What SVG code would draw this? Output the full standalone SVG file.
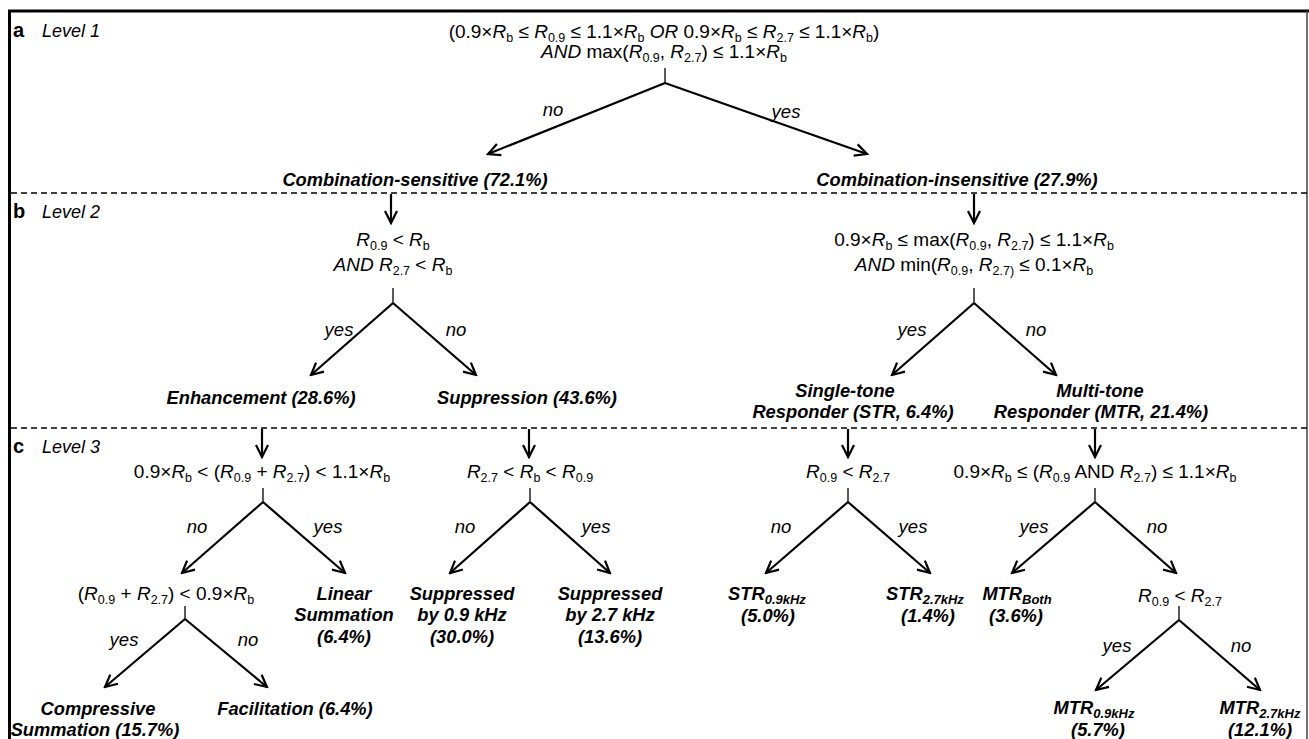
<svg xmlns="http://www.w3.org/2000/svg" width="1309" height="739" viewBox="0 0 1309 739">
<style>
text{font-family:"Liberation Sans",Arial,sans-serif;font-size:19px;fill:#000}
.c{text-anchor:middle}
.i{font-style:italic}
.r{font-weight:bold;font-style:italic;font-size:18.3px}
.lv{font-size:18px;font-style:italic}
.pl{font-size:20px;font-weight:bold}
.s{font-size:12.5px;font-style:normal;baseline-shift:-4px}
.rs{font-size:13px;baseline-shift:-4px}
.yn{font-style:italic;text-anchor:middle;font-size:18.5px}
.tk{stroke:#000;stroke-width:1.3;fill:none}
.ar{stroke:#000;stroke-width:2.2;fill:none;marker-end:url(#ah)}
.dash{stroke:#000;stroke-width:1.3;stroke-dasharray:6 4;fill:none}
</style>
<defs>
<marker id="ah" markerUnits="userSpaceOnUse" markerWidth="16" markerHeight="16" viewBox="0 0 16 16" refX="14" refY="8" orient="auto">
<path d="M2,2 L14,8 L2,14" fill="none" stroke="#000" stroke-width="2.2"/>
</marker>
</defs>
<rect width="1309" height="739" fill="#fff"/>

<g id="frame">
<line x1="8" y1="11" x2="1309" y2="11" stroke="#000" stroke-width="3"/>
<line x1="9.5" y1="10" x2="9.5" y2="739" stroke="#000" stroke-width="3"/>
<line x1="1307" y1="11" x2="1307" y2="739" stroke="#444" stroke-width="1.5"/>
<line class="dash" x1="11" y1="193" x2="1307" y2="193"/>
<line class="dash" x1="11" y1="428" x2="1307" y2="428"/>
</g>

<g id="panel-labels">
<text x="13" y="37" class="pl">a</text><text x="42" y="37" class="lv">Level 1</text>
<text x="13" y="218" class="pl">b</text><text x="42" y="218" class="lv">Level 2</text>
<text x="13" y="453" class="pl">c</text><text x="42" y="453" class="lv">Level 3</text>
</g>

<g id="connectors">
<line class="tk" x1="665" y1="68" x2="665" y2="83"/>
<line class="ar" x1="665" y1="83" x2="488" y2="154"/>
<line class="ar" x1="665" y1="83" x2="867" y2="154"/>
<line class="ar" x1="391" y1="194" x2="391" y2="223"/>
<line class="ar" x1="974" y1="194" x2="974" y2="223"/>
<line class="tk" x1="393" y1="288" x2="393" y2="303"/>
<line class="ar" x1="393" y1="303" x2="311" y2="375"/>
<line class="ar" x1="393" y1="303" x2="476" y2="375"/>
<line class="tk" x1="974" y1="288" x2="974" y2="303"/>
<line class="ar" x1="974" y1="303" x2="892" y2="375"/>
<line class="ar" x1="974" y1="303" x2="1056" y2="375"/>
<line class="ar" x1="262" y1="429" x2="262" y2="457"/>
<line class="ar" x1="529" y1="429" x2="529" y2="457"/>
<line class="ar" x1="848" y1="429" x2="848" y2="457"/>
<line class="ar" x1="1095" y1="429" x2="1095" y2="457"/>
<line class="tk" x1="263" y1="488" x2="263" y2="502"/>
<line class="ar" x1="263" y1="502" x2="182" y2="573"/>
<line class="ar" x1="263" y1="502" x2="345" y2="573"/>
<line class="tk" x1="530" y1="488" x2="530" y2="502"/>
<line class="ar" x1="530" y1="502" x2="450" y2="573"/>
<line class="ar" x1="530" y1="502" x2="610" y2="573"/>
<line class="tk" x1="848" y1="488" x2="848" y2="502"/>
<line class="ar" x1="848" y1="502" x2="766" y2="573"/>
<line class="ar" x1="848" y1="502" x2="930" y2="573"/>
<line class="tk" x1="1095" y1="488" x2="1095" y2="502"/>
<line class="ar" x1="1095" y1="502" x2="1012" y2="573"/>
<line class="ar" x1="1095" y1="502" x2="1176" y2="573"/>
<line class="tk" x1="185" y1="606" x2="185" y2="619"/>
<line class="ar" x1="185" y1="619" x2="105" y2="687"/>
<line class="ar" x1="185" y1="619" x2="267" y2="687"/>
<line class="tk" x1="1179" y1="606" x2="1179" y2="620"/>
<line class="ar" x1="1179" y1="620" x2="1096" y2="690"/>
<line class="ar" x1="1179" y1="620" x2="1260" y2="690"/>
</g>

<g id="edge-labels">
<text x="553" y="116" class="yn">no</text>
<text x="786" y="118" class="yn">yes</text>
<text x="339" y="336" class="yn">yes</text>
<text x="456" y="336" class="yn">no</text>
<text x="912" y="336" class="yn">yes</text>
<text x="1036" y="336" class="yn">no</text>
<text x="197" y="533" class="yn">no</text>
<text x="328" y="533" class="yn">yes</text>
<text x="465" y="533" class="yn">no</text>
<text x="596" y="533" class="yn">yes</text>
<text x="781" y="533" class="yn">no</text>
<text x="913" y="533" class="yn">yes</text>
<text x="1034" y="533" class="yn">yes</text>
<text x="1157" y="533" class="yn">no</text>
<text x="124" y="646" class="yn">yes</text>
<text x="248" y="646" class="yn">no</text>
<text x="1117" y="652" class="yn">yes</text>
<text x="1241" y="652" class="yn">no</text>
</g>

<g id="q1">
<text x="664" y="38" class="c">(0.9×<tspan class="i">R</tspan><tspan class="s">b</tspan> ≤ <tspan class="i">R</tspan><tspan class="s">0.9</tspan> ≤ 1.1×<tspan class="i">R</tspan><tspan class="s">b</tspan> <tspan class="i">OR</tspan> 0.9×<tspan class="i">R</tspan><tspan class="s">b</tspan> ≤ <tspan class="i">R</tspan><tspan class="s">2.7</tspan> ≤ 1.1×<tspan class="i">R</tspan><tspan class="s">b</tspan>)</text>
<text x="664" y="58" class="c"><tspan class="i">AND</tspan> max(<tspan class="i">R</tspan><tspan class="s">0.9</tspan>, <tspan class="i">R</tspan><tspan class="s">2.7</tspan>) ≤ 1.1×<tspan class="i">R</tspan><tspan class="s">b</tspan></text>
</g>
<g id="n-comb-sens"><text x="415" y="186" class="c r">Combination-sensitive (72.1%)</text></g>
<g id="n-comb-insens"><text x="957" y="186" class="c r">Combination-insensitive (27.9%)</text></g>

<g id="q2a">
<text x="393" y="246" class="c"><tspan class="i">R</tspan><tspan class="s">0.9</tspan> &lt; <tspan class="i">R</tspan><tspan class="s">b</tspan></text>
<text x="393" y="271" class="c"><tspan class="i">AND R</tspan><tspan class="s">2.7</tspan> &lt; <tspan class="i">R</tspan><tspan class="s">b</tspan></text>
</g>
<g id="q2b">
<text x="974" y="246" class="c">0.9×<tspan class="i">R</tspan><tspan class="s">b</tspan> ≤ max(<tspan class="i">R</tspan><tspan class="s">0.9</tspan>, <tspan class="i">R</tspan><tspan class="s">2.7</tspan>) ≤ 1.1×<tspan class="i">R</tspan><tspan class="s">b</tspan></text>
<text x="974" y="271" class="c"><tspan class="i">AND</tspan> min(<tspan class="i">R</tspan><tspan class="s">0.9</tspan>, <tspan class="i">R</tspan><tspan class="s">2.7)</tspan> ≤ 0.1×<tspan class="i">R</tspan><tspan class="s">b</tspan></text>
</g>
<g id="n-enh"><text x="261" y="404" class="c r">Enhancement (28.6%)</text></g>
<g id="n-sup"><text x="527" y="404" class="c r">Suppression (43.6%)</text></g>
<g id="n-str"><text x="845" y="397" class="c r">Single-tone</text><text x="853" y="418" class="c r">Responder (STR, 6.4%)</text></g>
<g id="n-mtr"><text x="1100" y="397" class="c r">Multi-tone</text><text x="1101" y="418" class="c r">Responder (MTR, 21.4%)</text></g>

<g id="q3a"><text x="262" y="478" class="c">0.9×<tspan class="i">R</tspan><tspan class="s">b</tspan> &lt; (<tspan class="i">R</tspan><tspan class="s">0.9</tspan> + <tspan class="i">R</tspan><tspan class="s">2.7</tspan>) &lt; 1.1×<tspan class="i">R</tspan><tspan class="s">b</tspan></text></g>
<g id="q3b"><text x="530" y="478" class="c"><tspan class="i">R</tspan><tspan class="s">2.7</tspan> &lt; <tspan class="i">R</tspan><tspan class="s">b</tspan> &lt; <tspan class="i">R</tspan><tspan class="s">0.9</tspan></text></g>
<g id="q3c"><text x="848" y="478" class="c"><tspan class="i">R</tspan><tspan class="s">0.9</tspan> &lt; <tspan class="i">R</tspan><tspan class="s">2.7</tspan></text></g>
<g id="q3d"><text x="1095" y="478" class="c">0.9×<tspan class="i">R</tspan><tspan class="s">b</tspan> ≤ (<tspan class="i">R</tspan><tspan class="s">0.9</tspan> AND <tspan class="i">R</tspan><tspan class="s">2.7</tspan>) ≤ 1.1×<tspan class="i">R</tspan><tspan class="s">b</tspan></text></g>

<g id="q4a"><text x="166" y="600" class="c">(<tspan class="i">R</tspan><tspan class="s">0.9</tspan> + <tspan class="i">R</tspan><tspan class="s">2.7</tspan>) &lt; 0.9×<tspan class="i">R</tspan><tspan class="s">b</tspan></text></g>
<g id="n-lin"><text x="344" y="600" class="c r">Linear</text><text x="344" y="621" class="c r">Summation</text><text x="344" y="643" class="c r">(6.4%)</text></g>
<g id="n-sup09"><text x="462" y="600" class="c r">Suppressed</text><text x="462" y="621" class="c r">by 0.9 kHz</text><text x="462" y="643" class="c r">(30.0%)</text></g>
<g id="n-sup27"><text x="610" y="600" class="c r">Suppressed</text><text x="610" y="621" class="c r">by 2.7 kHz</text><text x="610" y="643" class="c r">(13.6%)</text></g>
<g id="n-str09"><text x="767" y="600" class="c r">STR<tspan class="rs">0.9kHz</tspan></text><text x="768" y="622" class="c r">(5.0%)</text></g>
<g id="n-str27"><text x="925" y="600" class="c r">STR<tspan class="rs">2.7kHz</tspan></text><text x="928" y="622" class="c r">(1.4%)</text></g>
<g id="n-mtrboth"><text x="1017" y="600" class="c r">MTR<tspan class="rs">Both</tspan></text><text x="1016" y="622" class="c r">(3.6%)</text></g>
<g id="q4b"><text x="1180" y="602" class="c"><tspan class="i">R</tspan><tspan class="s">0.9</tspan> &lt; <tspan class="i">R</tspan><tspan class="s">2.7</tspan></text></g>

<g id="n-comp"><text x="98" y="715" class="c r">Compressive</text><text x="95" y="736" class="c r">Summation (15.7%)</text></g>
<g id="n-fac"><text x="295" y="715" class="c r">Facilitation (6.4%)</text></g>
<g id="n-mtr09"><text x="1094" y="714" class="c r">MTR<tspan class="rs">0.9kHz</tspan></text><text x="1098" y="736" class="c r">(5.7%)</text></g>
<g id="n-mtr27"><text x="1260" y="714" class="c r">MTR<tspan class="rs">2.7kHz</tspan></text><text x="1260" y="736" class="c r">(12.1%)</text></g>
</svg>
